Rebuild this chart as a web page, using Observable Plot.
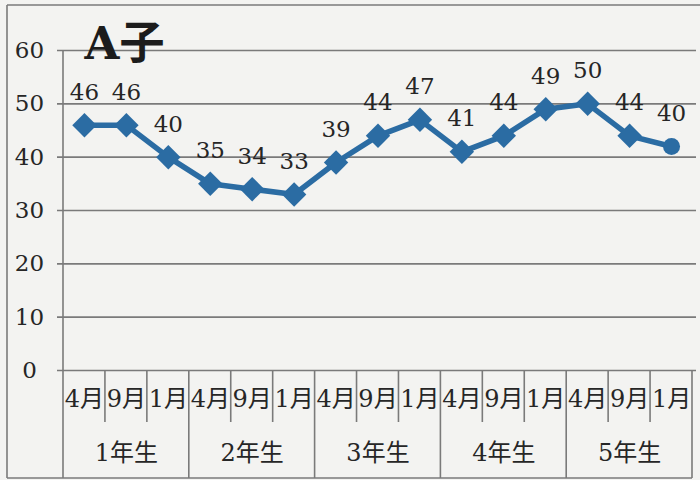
<!DOCTYPE html>
<html><head><meta charset="utf-8">
<script src="https://cdn.jsdelivr.net/npm/d3@7"></script>
<script src="https://cdn.jsdelivr.net/npm/@observablehq/plot@0.6"></script>
<style>
html,body{margin:0;padding:0;background:#f3f3f1;}
#chart{width:700px;height:480px;}
</style></head><body><div id="chart"></div>
<script>
// ---- data ----
const title = "A子";
const months = ["4月","9月","1月","4月","9月","1月","4月","9月","1月","4月","9月","1月","4月","9月","1月"];
const grades = ["1年生","2年生","3年生","4年生","5年生"];
const values = [46,46,40,35,34,33,39,44,47,41,44,49,50,44,42];
const valueLabels = ["46","46","40","35","34","33","39","44","47","41","44","49","50","44","40"];
const yTicks = [0,10,20,30,40,50,60];

// ---- build ----
const data = values.map((v,i)=>({i, v, label: valueLabels[i], month: months[i]}));
const lastIndex = values.length - 1;
const gradeData = grades.map((g,k)=>({g, mid: k*3+1}));
const lineColor = "#2b6ca3";
const ink = "#262626";
const gridColor = "#7a7a7a";
const serif = "'DejaVu Serif', 'Noto Sans CJK JP', serif";

const chart = Plot.plot({
  width: 700, height: 480,
  marginLeft: 63, marginRight: 8, marginTop: 50, marginBottom: 110,
  style: {background: "transparent", fontFamily: serif},
  x: {type: "band", domain: d3.range(months.length), padding: 0, round: false, axis: null},
  y: {domain: [0, 60], axis: null},
  marks: [
    Plot.ruleY(yTicks, {stroke: gridColor, strokeWidth: 1.6, insetLeft: -6, insetRight: -4}),
    Plot.text(yTicks, {y: d=>d, text: d=>String(d), frameAnchor: "left", dx: -34, textAnchor: "middle", fontSize: 23, fill: ink}),
    Plot.line(data, {x: "i", y: "v", stroke: lineColor, strokeWidth: 5.5}),
    Plot.dot(data.filter(d => d.i !== lastIndex), {x: "i", y: "v", symbol: "diamond2", r: 11, fill: lineColor, stroke: "none"}),
    Plot.dot(data.filter(d => d.i === lastIndex), {x: "i", y: "v", symbol: "circle", r: 8.5, fill: lineColor, stroke: "none"}),
    Plot.text(data, {x: "i", y: "v", text: "label", dy: -33, fontSize: 23, fill: ink}),
    Plot.text(data, {x: "i", text: "month", frameAnchor: "bottom", dy: 36, fontSize: 24, fill: ink}),
    Plot.text(gradeData, {x: "mid", text: "g", frameAnchor: "bottom", dy: 90, fontSize: 24, fill: ink}),
    Plot.text([title], {frameAnchor: "top-left", dx: 21, dy: 8, lineAnchor: "bottom", fontSize: 45, fontWeight: "bold", fill: "#1c1c1c"})
  ]
});

// table / frame lines derived from the plot's scales
const xs = chart.scale("x");
const ys = chart.scale("y");
const bw = xs.bandwidth;
const x0 = xs.apply(0), xEnd = xs.apply(months.length-1) + bw;
const yBase = ys.apply(0), yTop = ys.apply(60);
const monthRowBottom = yBase + 52, tableBottom = 478;
const g = d3.select(chart).insert("g", ":first-child")
  .attr("stroke", gridColor).attr("stroke-width", 1.6).attr("fill", "none");
function seg(x1,y1,x2,y2){ g.append("line").attr("x1",x1).attr("y1",y1).attr("x2",x2).attr("y2",y2); }
seg(x0, yTop, x0, tableBottom);              // axis line through table
seg(xEnd, yBase, xEnd, tableBottom);         // table right edge
for (let i = 1; i < months.length; i++) {
  const bx = xs.apply(i);
  seg(bx, yBase, bx, i % 3 === 0 ? tableBottom : monthRowBottom);
}
seg(7, 5, 7, tableBottom);                   // outer left border
seg(7, 5, 700, 5);                           // outer top border
seg(7, tableBottom, xEnd, tableBottom);      // bottom border

document.getElementById("chart").appendChild(chart);
</script>
</body></html>
